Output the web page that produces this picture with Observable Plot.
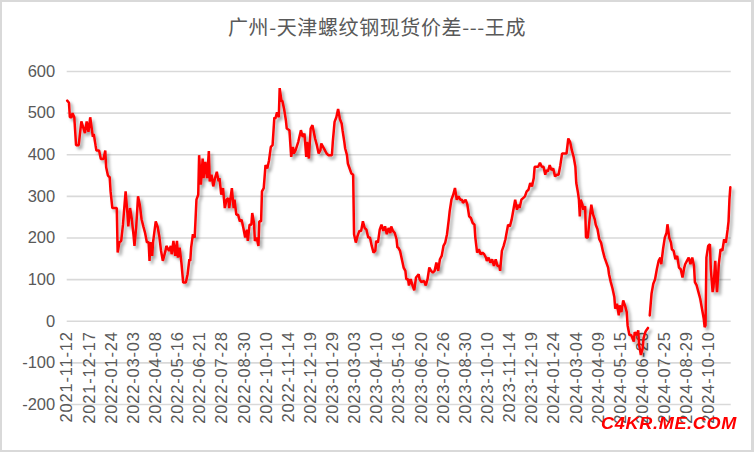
<!DOCTYPE html>
<html>
<head>
<meta charset="utf-8">
<script src="https://cdn.jsdelivr.net/npm/d3@7"></script>
<script src="https://cdn.jsdelivr.net/npm/@observablehq/plot@0.6"></script>
<style>
  html, body { margin: 0; padding: 0; background: #fff; }
  #wrap { position: relative; width: 754px; height: 452px; overflow: hidden; background: #fff; }
  #frame { position: absolute; left: 0; top: 0; width: 754px; height: 452px; box-sizing: border-box; border: 2px solid #d9d9d9; border-right-width: 3px; pointer-events: none; }
  #title { position: absolute; left: 0; top: 14px; width: 754px; text-align: center; font-family: "Noto Sans CJK SC", "Noto Sans", sans-serif; font-size: 20px; letter-spacing: 0.6px; color: #595959; line-height: 26px; }
  #chart { position: absolute; left: 0; top: 50px; }
  #mark { position: absolute; left: 601px; top: 415px; font-family: "Liberation Sans", Arial, sans-serif; font-weight: bold; font-style: italic; font-size: 16px; color: #ff0000; transform-origin: left top; transform: scaleX(1.13); letter-spacing: 0.6px; }
</style>
</head>
<body>
<div id="wrap">
  <div id="title">广州-天津螺纹钢现货价差---王成</div>
  <div id="chart"></div>
  <div id="mark">C4KR.ME.COM</div>
  <div id="frame"></div>
</div>
<script>
// trading-day index of each sampled point (0 = 2021-11-12)
const day = [0,2,3,5,6,8,10,13,16,20,22,24,26,29,30,32,33,36,38,41,43,44,46,48,49,51,56,57,59,61,63,64,66,68,69,71,73,75,76,78,80,82,84,86,88,90,92,93,94,96,97,100,102,104,106,108,111,112,115,117,118,120,122,124,125,127,129,131,134,136,138,139,140,142,144,146,148,149,151,153,154,156,158,160,161,163,165,167,169,171,172,174,176,178,180,182,183,186,188,189,191,193,195,197,199,201,203,204,206,208,209,211,212,214,216,217,219,220,222,224,226,228,230,232,234,235,237,239,240,242,243,245,247,248,251,253,255,256,258,261,264,266,268,270,271,273,275,277,280,282,284,286,287,289,291,293,295,299,300,302,304,306,308,310,311,313,314,316,317,319,321,323,324,326,328,330,332,334,336,338,340,342,344,346,348,349,351,353,355,357,359,361,363,365,366,368,370,372,373,374,376,378,380,382,383,385,386,388,390,392,394,397,398,400,403,405,407,409,411,413,415,417,419,421,423,425,427,429,431,432,434,436,438,440,442,444,446,447,450,452,454,456,458,460,461,463,465,467,469,471,473,474,476,478,480,482,484,486,488,489,491,493,495,496,498,500,502,504,506,508,510,511,513,515,517,519,521,523,525,527,528,530,532,534,536,538,540,541,543,545,547,549,551,553,555,557,559,562,564,566,568,570,572,574,575,577,578,579,580,582,583,585,586,588,590,592,594,596,597,599,601,603,605,607,609,611,612,614,616,618,619,621,623,624,626,628,630,632,633,635,637,640,641,643,645,646,648,650,651,653,654,656,657,658,660,662,664,666,668,670,671,673,675,677,678,680,682,683,685,687,689,691,693,695,697,698,700,702,704,706,708,709,711,713,715,717,719,720,721,722,724,726,727,729,730,732,733,734,736,738,740,742,744,746,747,748,749];
// 广州-天津 spread (元/吨); null = missing day
const spread = [530,525,490,490,500,490,423,423,480,452,480,455,490,443,450,423,410,410,390,390,410,370,350,346,312,272,272,165,190,193,232,260,312,260,228,272,245,205,181,228,300,280,245,228,212,190,190,145,190,157,190,240,228,205,169,145,169,181,169,181,161,193,157,193,153,177,141,93,93,113,149,145,177,209,201,292,304,399,328,391,344,383,344,409,336,352,324,344,359,336,344,304,320,272,292,296,272,320,272,292,256,256,240,244,224,201,220,193,232,232,260,236,193,201,181,240,240,312,320,375,367,387,419,423,490,486,502,490,560,530,530,510,483,463,459,395,419,403,411,431,459,443,451,395,431,391,463,471,439,423,403,411,427,419,411,403,399,399,431,479,490,510,486,475,459,431,415,399,379,367,355,352,209,189,205,217,217,240,224,220,201,201,181,165,169,193,189,220,232,217,228,209,224,212,228,217,212,197,177,177,169,149,129,121,101,101,86,101,86,74,105,113,101,94,97,86,101,129,121,117,121,141,121,149,157,181,189,209,244,264,292,304,320,292,300,292,292,284,292,280,252,248,236,232,201,165,173,161,165,161,153,145,153,141,149,133,149,133,133,121,169,181,197,209,232,228,244,268,292,268,280,272,292,296,300,312,316,332,324,344,371,371,371,381,371,371,352,363,360,375,363,367,348,352,352,375,403,403,403,439,431,411,395,371,332,308,292,252,292,280,268,276,201,201,244,280,256,244,232,221,197,189,169,153,141,129,113,94,78,58,30,42,14,38,22,50,38,22,-10,-33,-33,-49,-26,-33,-22,-57,-81,-65,-41,-26,-22,-16,null,14,66,90,101,125,145,153,137,173,201,213,233,201,189,173,169,149,157,129,125,105,129,137,145,153,137,153,133,94,86,70,54,30,6,-14,-10,153,181,185,125,70,82,145,101,70,137,173,169,197,189,221,240,292,322];
// category-axis labels, one every 25 trading days
const tickLabels = ["2021-11-12","2021-12-17","2022-01-24","2022-03-03","2022-04-08","2022-05-16","2022-06-21","2022-07-28","2022-08-30","2022-10-10","2022-11-14","2022-12-19","2023-01-29","2023-03-03","2023-04-10","2023-05-16","2023-06-20","2023-07-26","2023-08-30","2023-10-10","2023-11-14","2023-12-19","2024-01-24","2024-03-04","2024-04-09","2024-05-15","2024-06-20","2024-07-25","2024-08-29","2024-10-10"];
const tickStep = 25;
const yTicks = [-200,-100,0,100,200,300,400,500,600];
const totalDays = 750;

const rows = day.map((d, i) => ({day: d, v: spread[i]}));
const labelRows = tickLabels.map((t, i) => ({day: i * tickStep, t}));

const svg = Plot.plot({
  width: 754,
  height: 402,
  marginTop: 21,
  marginBottom: 48,
  marginLeft: 66.7,
  marginRight: 23.3,
  style: {fontFamily: "'Liberation Sans', Arial, sans-serif", fontSize: "16px", background: "transparent", overflow: "visible"},
  x: {domain: [0, totalDays], axis: null},
  y: {domain: [-200, 600]},
  marks: [
    Plot.ruleY(yTicks, {stroke: "#d9d9d9", strokeWidth: 1.6}),
    Plot.axisY(yTicks, {tickSize: 0, tickPadding: 12, tickFormat: d => String(d), fill: "#595959", fontSize: 16.5, label: null}),
    Plot.text(labelRows, {x: "day", y: () => 0, text: "t", rotate: -90, textAnchor: "end", dy: 10, fontSize: 16.5, fill: "#595959"}),
    Plot.line(rows, {x: "day", y: "v", stroke: "#ff0000", strokeWidth: 2.5, strokeLinejoin: "miter"})
  ]
});

// soft drop shadow under the line, as in the reference
const ns = "http://www.w3.org/2000/svg";
const defs = document.createElementNS(ns, "defs");
defs.innerHTML = '<filter id="shadow" x="-5%" y="-5%" width="115%" height="120%"><feDropShadow dx="2.5" dy="3" stdDeviation="1.8" flood-color="#000" flood-opacity="0.35"/></filter>';
svg.insertBefore(defs, svg.firstChild);
const lineG = svg.querySelector('g[aria-label="line"]');
if (lineG) lineG.setAttribute("filter", "url(#shadow)");
svg.querySelectorAll('g[aria-label="text"] text').forEach(t => t.style.letterSpacing = "0.8px");

document.getElementById("chart").appendChild(svg);
</script>
</body>
</html>
